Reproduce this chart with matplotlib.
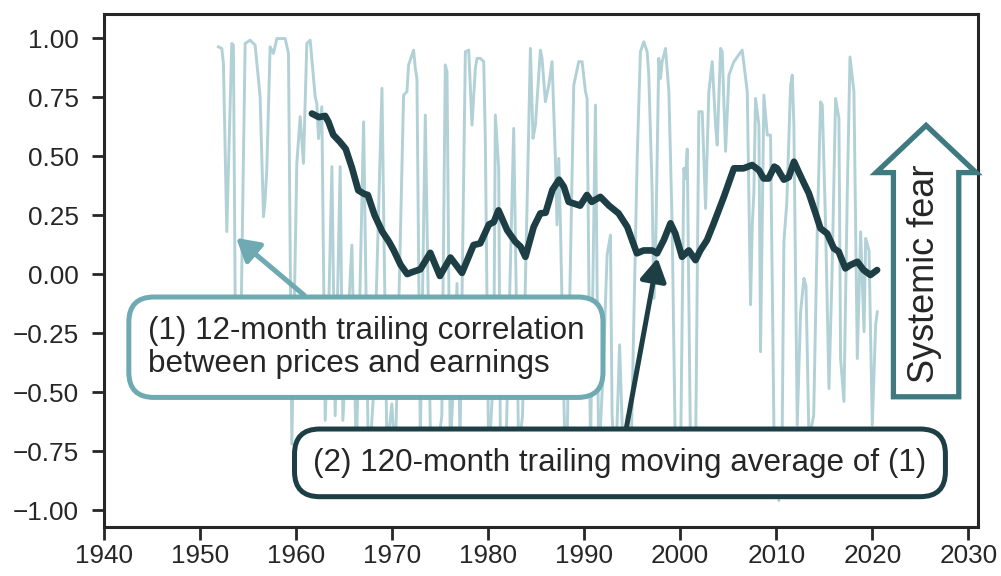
import matplotlib.pyplot as plt
from matplotlib.patches import FancyArrow

# 12-month trailing correlation (turning points)
corr_years = [1951.95, 1952.3, 1952.47, 1952.82, 1953.1, 1953.34, 1953.51, 1953.75, 1954.0, 1954.2,
              1954.73, 1955.25, 1955.77, 1956.12, 1956.29, 1956.64, 1956.81, 1956.98, 1957.33, 1957.68,
              1958.03, 1958.9, 1959.24, 1959.59, 1960.11, 1960.46, 1960.8, 1961.15, 1961.5, 1962.02,
              1962.19, 1962.37, 1962.71, 1963.06, 1963.4, 1963.76, 1964.1, 1964.62, 1964.9, 1965.3,
              1965.84, 1966.3, 1967.06, 1967.58, 1968.1, 1968.97, 1969.49, 1970.0, 1970.35, 1971.22,
              1971.57, 1971.74, 1972.09, 1972.26, 1972.44, 1972.61, 1972.96, 1973.48, 1974.0, 1974.6,
              1975.2, 1975.56, 1975.74, 1976.08, 1976.6, 1976.78, 1977.1, 1977.65, 1978.0, 1978.34,
              1978.69, 1978.86, 1979.21, 1979.56, 1979.73, 1980.08, 1980.6, 1980.77, 1981.12, 1981.29,
              1981.81, 1982.68, 1983.2, 1983.6, 1984.42, 1984.69, 1984.94, 1985.46, 1985.63, 1985.98,
              1986.33, 1986.67, 1987.02, 1987.19, 1987.37, 1987.54, 1988.06, 1988.24, 1988.93, 1989.45,
              1989.8, 1990.15, 1990.32, 1990.67, 1991.19, 1991.53, 1992.0, 1992.4, 1992.75, 1992.92,
              1993.27, 1993.7, 1994.14, 1994.5, 1994.83, 1995.53, 1995.87, 1996.22, 1996.57, 1996.74,
              1997.09, 1997.26, 1997.44, 1997.78, 1997.96, 1998.13, 1998.48, 1998.83, 1999.17, 1999.52,
              2000.04, 2000.39, 2000.56, 2000.74, 2001.08, 2001.6, 2001.95, 2002.3, 2002.65, 2002.99,
              2003.34, 2003.69, 2003.86, 2004.21, 2004.38, 2004.73, 2005.08, 2005.6, 2006.46, 2006.99,
              2007.33, 2007.51, 2007.68, 2007.85, 2008.2, 2008.37, 2008.72, 2009.07, 2009.41, 2009.76,
              2010.28, 2010.63, 2010.8, 2011.1, 2011.5, 2011.67, 2011.84, 2012.19, 2012.54, 2012.89,
              2013.1, 2013.41, 2013.9, 2014.27, 2014.62, 2014.8, 2015.14, 2015.49, 2015.8, 2016.18,
              2016.53, 2016.7, 2017.05, 2017.4, 2017.68, 2018.09, 2018.44, 2018.79, 2019.14, 2019.31,
              2019.66, 2020.0, 2020.35, 2020.52]
corr_vals = [0.963, 0.956, 0.893, 0.18, 0.6, 0.977, 0.97, -0.45, -0.1, -0.48,
             0.977, 0.991, 0.97, 0.822, 0.751, 0.243, 0.314, 0.44, 0.963, 0.935,
             0.998, 0.998, 0.935, -0.72, 0.469, 0.667, 0.469, 0.977, 0.991, 0.751,
             0.723, 0.574, 0.709, -0.62, -0.2, 0.455, -0.6, 0.455, -0.62, -0.3,
             0.123, -0.78, 0.645, -0.85, -0.5, 0.787, -0.75, -0.55, -0.8, 0.758,
             0.773, 0.886, 0.928, 0.949, 0.872, 0.829, -0.7, 0.674, -0.65, -0.8,
             -0.6, 0.886, 0.857, -0.75, -0.3, -0.04, -0.7, 0.942, 0.949, 0.631,
             0.872, 0.914, 0.914, 0.9, 0.56, -0.8, -0.4, 0.674, 0.448, -0.7,
             -0.85, 0.617, -0.75, -0.6, 0.956, 0.575, 0.631, 0.949, 0.914, 0.73,
             0.8, 0.9, 0.49, 0.208, 0.49, 0.22, -0.85, -0.7, 0.8, 0.9,
             0.9, 0.773, 0.744, -0.75, 0.716, -0.8, -0.4, 0.08, 0.165, -0.6,
             -0.85, -0.3, -0.85, -0.6, -0.9, 0.49, 0.942, 0.984, 0.942, 0.843,
             0.349, -0.103, 0.066, 0.914, 0.829, 0.9, 0.956, 0.773, 0.208, -0.8,
             -0.8, 0.448, 0.405, 0.53, -0.75, -0.8, 0.688, 0.688, 0.278, 0.773,
             0.9, 0.631, 0.546, 0.956, 0.942, 0.52, 0.843, 0.9, 0.949, 0.773,
             -0.13, 0.208, 0.349, 0.744, 0.631, -0.329, 0.758, 0.589, 0.589, -0.64,
             -0.96, -0.64, 0.137, 0.3, 0.8, 0.843, 0.631, -0.64, -0.16, -0.018,
             -0.05, -0.7, -0.6, 0.179, 0.73, 0.716, 0.208, -0.485, -0.02, 0.744,
             0.66, -0.358, -0.54, 0.35, 0.92, 0.773, -0.358, 0.179, -0.244, 0.151,
             0.1, -0.64, -0.216, -0.16]

# 120-month trailing moving average of the correlation
ma_years = [1961.68, 1962.4, 1963.06, 1963.4, 1963.9, 1964.6, 1965.2, 1965.85, 1966.5, 1967.1,
            1967.5, 1968.2, 1969.0, 1969.7, 1970.2, 1970.9, 1971.6, 1972.1, 1972.96, 1974.0,
            1975.0, 1976.1, 1977.3, 1978.5, 1979.2, 1980.1, 1980.6, 1981.1, 1982.0, 1982.85,
            1983.4, 1983.9, 1984.76, 1985.45, 1986.0, 1986.7, 1987.4, 1987.9, 1988.4, 1989.6,
            1990.3, 1990.8, 1991.7, 1992.6, 1993.6, 1994.5, 1995.5, 1996.2, 1997.1, 1997.6,
            1998.3, 1999.0, 1999.5, 2000.2, 2000.9, 2001.6, 2002.1, 2002.8, 2003.5, 2004.55,
            2005.6, 2006.6, 2007.5, 2008.2, 2008.7, 2009.2, 2009.8, 2010.1, 2010.8, 2011.3,
            2011.85, 2012.4, 2012.9, 2013.4, 2014.1, 2014.6, 2015.3, 2016.0, 2016.5, 2017.2,
            2017.7, 2018.45, 2019.1, 2019.8, 2020.5]
ma_vals = [0.68, 0.665, 0.67, 0.645, 0.59, 0.56, 0.53, 0.45, 0.355, 0.34,
           0.335, 0.25, 0.18, 0.137, 0.1, 0.04, 0.0, 0.008, 0.02, 0.09,
           -0.008, 0.07, 0.005, 0.123, 0.13, 0.21, 0.22, 0.27, 0.186, 0.137,
           0.116, 0.073, 0.2, 0.257, 0.26, 0.356, 0.4, 0.37, 0.306, 0.29,
           0.335, 0.306, 0.327, 0.29, 0.257, 0.2, 0.088, 0.1, 0.1, 0.088,
           0.144, 0.215, 0.172, 0.073, 0.1, 0.059, 0.1, 0.144, 0.215, 0.327,
           0.448, 0.448, 0.462, 0.44, 0.405, 0.405, 0.455, 0.448, 0.4, 0.41,
           0.476, 0.427, 0.384, 0.342, 0.257, 0.194, 0.172, 0.109, 0.095, 0.024,
           0.038, 0.052, 0.017, -0.004, 0.017]

light = '#b1d1d6'
mid = '#6fa9b1'
dark = '#1c3e44'
fear = '#3e7a80'
ink = '#262626'

plt.rcParams['font.family'] = ['Liberation Sans', 'DejaVu Sans']
fig = plt.figure(figsize=(10.01, 5.76), dpi=100)
ax = fig.add_axes([0.1035, 0.085, 0.8735, 0.8907])

ax.plot(corr_years, corr_vals, color=light, lw=2.1, zorder=1, solid_joinstyle='round')
ax.plot(ma_years, ma_vals, color=dark, lw=4.8, zorder=2, solid_capstyle='round',
        solid_joinstyle='round')

ax.set_xlim(1940, 2031)
ax.set_ylim(-1.072, 1.102)
ax.set_xticks(range(1940, 2031, 10))
yt = [-1, -0.75, -0.5, -0.25, 0, 0.25, 0.5, 0.75, 1]
ax.set_yticks(yt)
ax.set_yticklabels([f'{v:.2f}'.replace('-', '\u2212') for v in yt])
ax.tick_params(labelsize=18.8, length=9, width=2, color=ink, labelcolor=ink)
ax.tick_params(axis='y', pad=9)
ax.tick_params(axis='x', pad=3)
for s in ax.spines.values():
    s.set_linewidth(2.2)
    s.set_color(ink)

# callouts
a1 = ax.annotate('(1) 12-month trailing correlation\nbetween prices and earnings',
                 xy=(1953.8, 0.153), xytext=(1967.3, -0.31),
                 ha='center', va='center', multialignment='left', linespacing=1.12,
                 fontsize=22.6, color=ink, zorder=5,
                 bbox=dict(boxstyle='round,pad=0.6,rounding_size=0.8', fc='white', ec=mid, lw=3.6),
                 arrowprops=dict(arrowstyle='-|>,head_length=0.6,head_width=0.35', color=mid,
                                 lw=3.6, shrinkA=0, shrinkB=0))
a2 = ax.annotate('(2) 120-month trailing moving average of (1)',
                 xy=(1997.65, 0.068), xytext=(1993.74, -0.80),
                 ha='center', va='center', fontsize=22.6, color=ink, zorder=5,
                 bbox=dict(boxstyle='round,pad=0.6,rounding_size=0.8', fc='white', ec=dark, lw=3.6),
                 arrowprops=dict(arrowstyle='-|>,head_length=0.6,head_width=0.35', color=dark,
                                 lw=3.6, shrinkA=0, shrinkB=0))

# "Systemic fear" arrow
big = FancyArrow(2025.6, -0.52, 0, 1.15, width=6.8, head_width=10.4, head_length=0.2,
                 length_includes_head=True, fc='white', ec=fear, lw=3.8, zorder=4, clip_on=False)
ax.add_patch(big)
ax.text(2025.4, 0.0, 'Systemic fear', rotation=90, ha='center', va='center',
        fontsize=26, color=ink, zorder=6)

fig.savefig('out.png', dpi=100)
